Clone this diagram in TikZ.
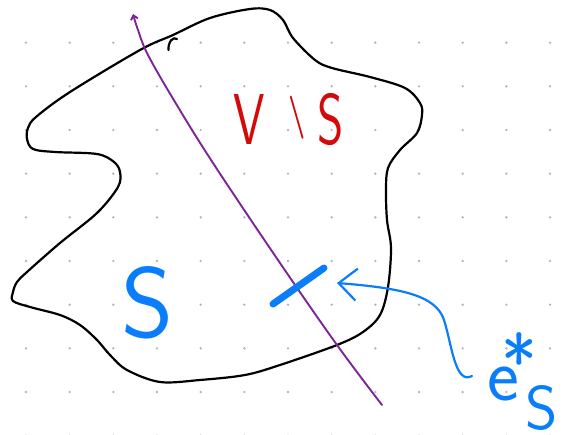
\documentclass[tikz,border=0pt]{standalone}
\definecolor{inkBlack}{HTML}{000000}
\definecolor{inkRed}{HTML}{D20A0A}
\definecolor{inkBlue}{HTML}{0A7DFA}
\definecolor{inkPurple}{HTML}{7D2496}
\definecolor{dotGrey}{HTML}{B4B4B4}
\usepackage{tikz}
\usetikzlibrary{arrows.meta, positioning, calc}

\begin{document}
\begin{tikzpicture}[x=1pt, y=-1pt,
  ink/.style={line width=2.2pt, line cap=round, line join=round},
  lbl/.style={inner sep=0pt, font=\sffamily}]
  \useasboundingbox (0,0) rectangle (571,435);
  % dot grid
  \foreach \i in {0,...,12}
    \foreach \j in {0,...,10}
      \fill[dotGrey] ({26+43.67*\i},{-1+43.67*\j}) circle (1.3pt);
  % the set
  \draw[ink, inkBlack] plot[smooth cycle, tension=0.55] coordinates {
    (173,35) (210,18) (250,9) (270,10) (283,20) (293,38) (315,60)
    (332,68) (370,77) (405,88) (420,103) (422,115) (417,133) (400,150)
    (388,168) (386,190) (387,220) (391,248) (388,287) (380,315)
    (363,332) (337,345) (280,365) (245,375) (200,380) (160,382)
    (127,370) (110,355) (97,340) (80,325) (60,315) (30,307) (13,301)
    (13,292) (17,282) (27,272) (60,243) (97,213) (118,187) (120,172)
    (114,162) (97,154) (55,152) (33,149) (27,139) (28,128) (36,117)
    (70,92) (140,50)};
  \draw[ink, inkBlack] (168.5,50) .. controls (168,42) and (173,36) .. (177,39);
  % the cut
  \draw[ink, inkPurple, line width=1.9pt, -{Straight Barb[length=4pt, width=7pt]}]
    plot[smooth, tension=0.6] coordinates {(382,405) (337,345) (280,263)
    (213,163) (175,102) (148,55) (138,30) (133,14)};
  % edge of the cut
  \draw[inkBlue, line width=7pt, line cap=round] (273,304) -- (324,268);
  % labels
  \node[lbl, text=inkRed, font=\fontsize{72}{72}\selectfont\sffamily, anchor=base west] (vs) at (233,145)
    {\scalebox{0.7}[1]{V\hspace{34pt}\raisebox{16pt}{\scalebox{0.6}{\bfseries\textbackslash}}\hspace{16pt}S}};
  \node[lbl, text=inkBlue, font=\fontsize{100}{100}\selectfont\sffamily] (s) at (148,303) {S};
  \node[lbl, text=inkBlue, font=\fontsize{76}{76}\selectfont\sffamily, anchor=base west] (es) at (487,401)
    {e\kern-17pt\raisebox{11pt}{*}\kern-12pt\raisebox{-29pt}{\fontsize{62}{62}\selectfont S}};
  \coordinate (tail) at (472,376);
  \coordinate (tip) at (337,283);
  \draw[ink, inkBlue, -{Straight Barb[length=18pt, width=32pt]}]
    (tail) .. controls (455,385) and (452,345) .. (444,320)
    .. controls (436,295) and (400,288) .. (tip);
\end{tikzpicture}
\end{document}
